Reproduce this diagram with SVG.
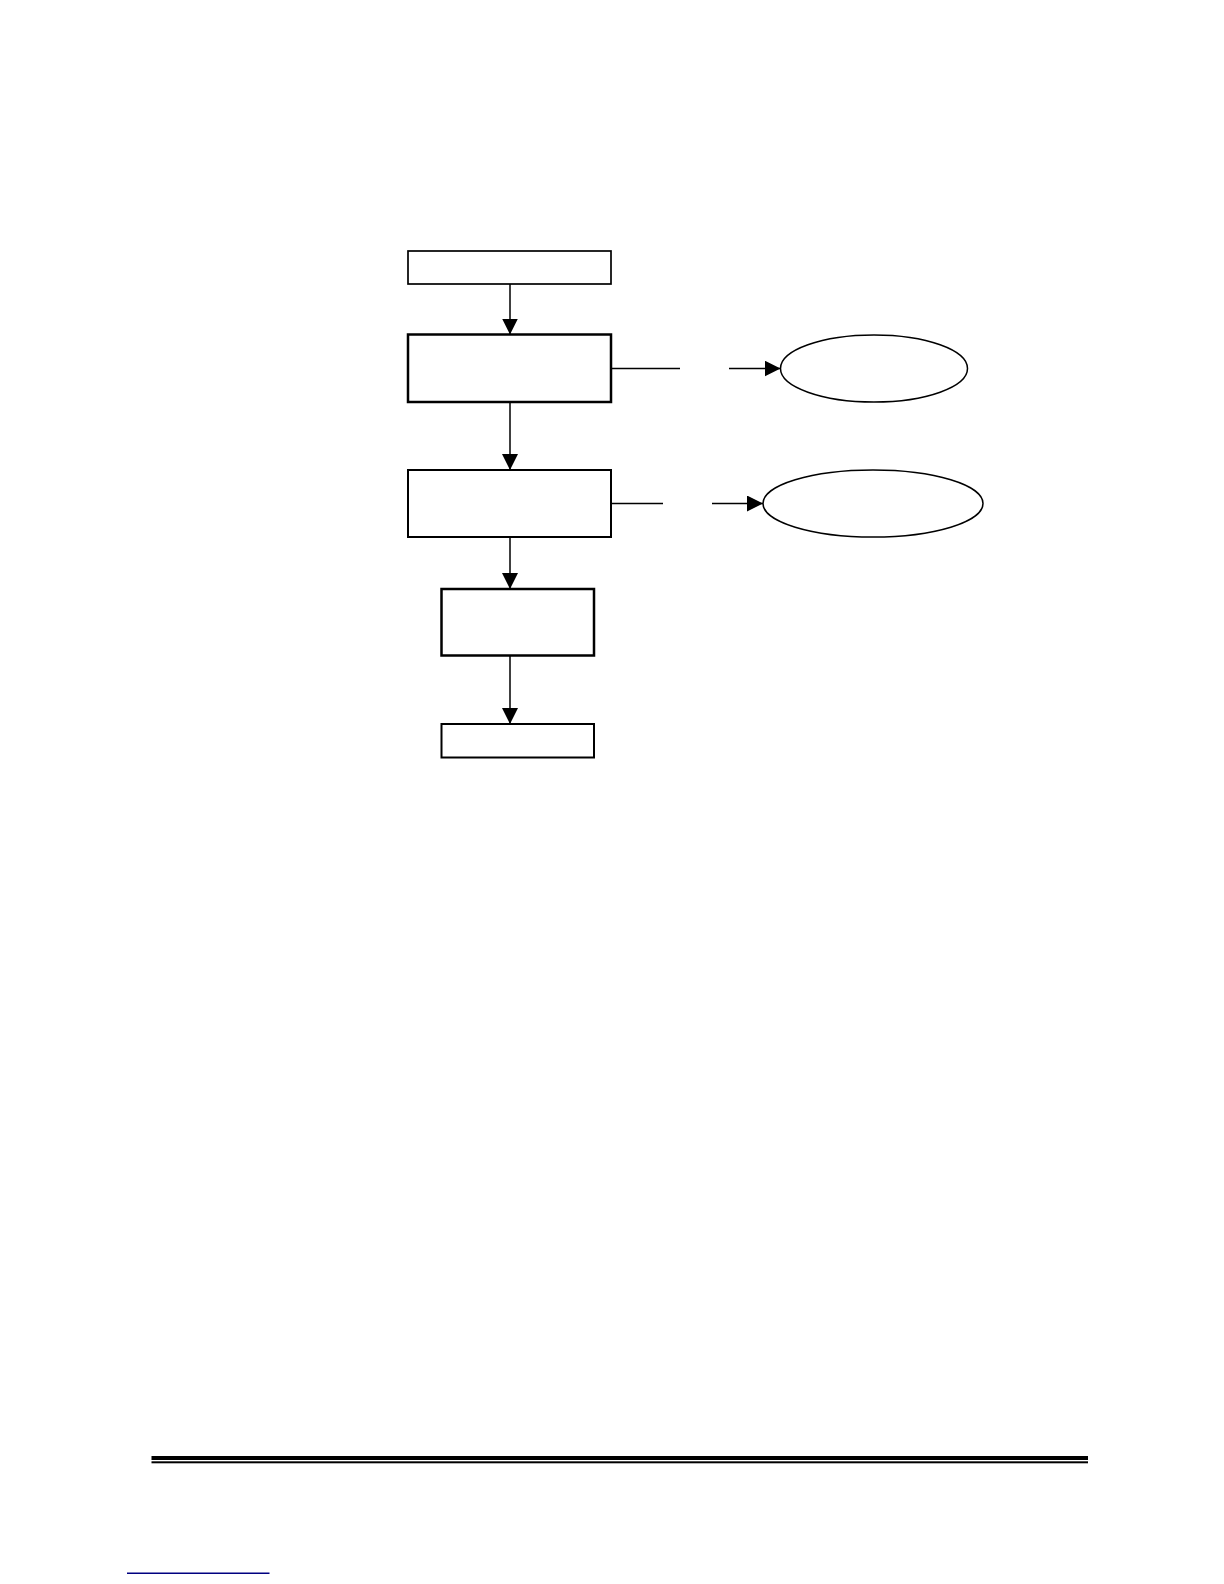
<svg xmlns="http://www.w3.org/2000/svg" width="1224" height="1584" viewBox="0 0 1224 1584">
<style>
.box{fill:#fff;stroke:#000;stroke-width:2}
.ell{fill:#fff;stroke:#000;stroke-width:1.5}
.con{stroke:#000;stroke-width:1.5;fill:none}
</style>
<defs>
<marker id="ah2" markerWidth="16" markerHeight="16" refX="16" refY="8" orient="auto" markerUnits="userSpaceOnUse" viewBox="0 0 16 16">
<path d="M0,0 L16,8 L0,16 Z" fill="#000"/>
</marker>
</defs>
<rect width="1224" height="1584" fill="#fff"/>
<g id="n1"><rect class="box" x="408" y="251" width="203" height="33" style="stroke-width:1.7"/></g>
<g id="n2"><rect class="box" x="408" y="334.5" width="203" height="67.5" style="stroke-width:2.5"/></g>
<g id="n3"><rect class="box" x="408" y="470" width="203" height="67"/></g>
<g id="n4"><rect class="box" x="441.5" y="589" width="152.5" height="66.5" style="stroke-width:2.5"/></g>
<g id="n5"><rect class="box" x="441.5" y="724" width="152.5" height="33.5"/></g>
<g id="e1"><ellipse class="ell" cx="874" cy="368.5" rx="93.5" ry="33.5"/></g>
<g id="e2"><ellipse class="ell" cx="873" cy="503.5" rx="110" ry="33.5"/></g>
<g id="connectors">
<line class="con" x1="510" y1="284" x2="510" y2="334.5" marker-end="url(#ah2)"/>
<line class="con" x1="510" y1="402" x2="510" y2="470" marker-end="url(#ah2)"/>
<line class="con" x1="510" y1="537" x2="510" y2="589" marker-end="url(#ah2)"/>
<line class="con" x1="510" y1="655.5" x2="510" y2="724" marker-end="url(#ah2)"/>
<line class="con" x1="611" y1="368.5" x2="680" y2="368.5"/>
<line class="con" x1="729" y1="368.5" x2="780.5" y2="368.5" marker-end="url(#ah2)"/>
<line class="con" x1="611" y1="503.5" x2="663" y2="503.5"/>
<line class="con" x1="712" y1="503.5" x2="763" y2="503.5" marker-end="url(#ah2)"/>
</g>
<rect x="151.5" y="1456" width="936.5" height="4" fill="#000"/>
<rect x="151.5" y="1461.3" width="936.5" height="2" fill="#000"/>
<rect x="127" y="1572.5" width="142.5" height="1.5" fill="#000080"/>
</svg>
